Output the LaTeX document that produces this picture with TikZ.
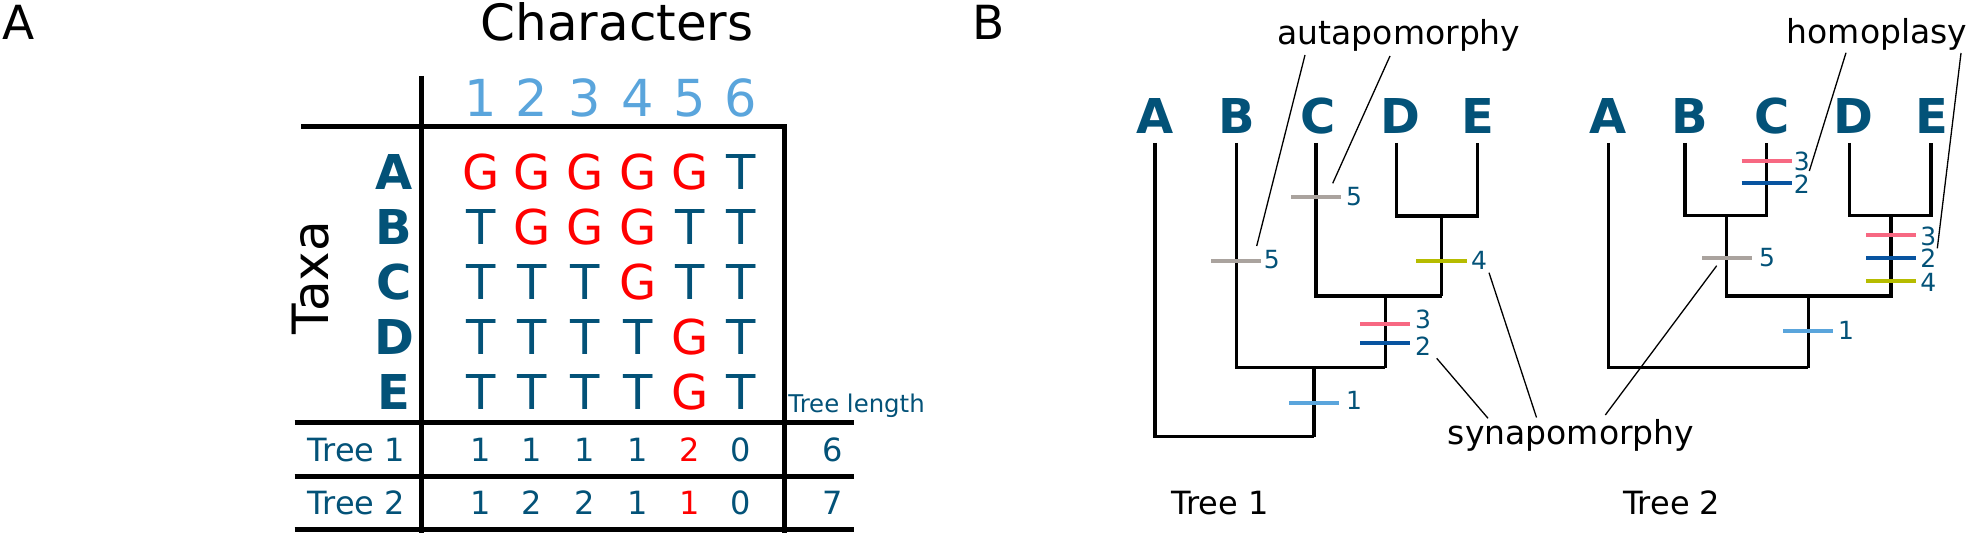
\documentclass[tikz,border=0pt]{standalone}
\usepackage{fontspec}
\setmainfont{DejaVu Sans}
\definecolor{cTeal}{RGB}{3,82,120}
\definecolor{cRed}{RGB}{255,0,0}
\definecolor{cLight}{RGB}{90,165,220}
\definecolor{cGray}{RGB}{170,163,158}
\definecolor{cOlive}{RGB}{182,188,0}
\definecolor{cPink}{RGB}{247,104,130}
\definecolor{cDark}{RGB}{8,84,160}
\newcommand{\myfs}[1]{\fontsize{#1}{#1}\selectfont}
\newcommand{\gG}{\textcolor{cRed}{G}}
\newcommand{\tT}{\textcolor{cTeal}{T}}
\newcommand{\rD}[1]{\textcolor{cRed}{#1}}
\newcommand{\trow}[8]{%
  \node[cell] (#1-1) at (481,#2) {#3};
  \node[cell] (#1-2) at (532,#2) {#4};
  \node[cell] (#1-3) at (585,#2) {#5};
  \node[cell] (#1-4) at (638,#2) {#6};
  \node[cell] (#1-5) at (690,#2) {#7};
  \node[cell] (#1-6) at (741,#2) {#8};}
\begin{document}
\begin{tikzpicture}[x=0.5pt,y=-0.5pt,
  every node/.style={inner sep=0pt, anchor=base},
  tbl/.style={line width=2.5pt, line join=miter},
  br/.style={line width=1.7pt, line join=miter},
  tk/.style={line width=2.1pt},
  lead/.style={line width=0.65pt},
  cell/.style={font={\myfs{24}}, text=cTeal},
  num/.style={font={\myfs{16}}, text=cTeal},
  hdr/.style={font={\myfs{25.5}}, text=cLight},
  taxon/.style={font={\myfs{24}\bfseries}, text=cTeal},
  tlab/.style={font={\myfs{12.5}}, text=cTeal, anchor=center},
  ann/.style={font={\myfs{16.5}}},
  treecap/.style={font={\myfs{16}}},
]
\useasboundingbox (0,0) rectangle (1969,533);

% ---------- panel A ----------
\node[font={\myfs{23.5}}] (pA) at (19,40) {A};
\node[font={\myfs{25}}] (chars) at (617,41) {Characters};
\node[hdr] (h1) at (481,116.7) {1};
\node[hdr] (h2) at (532,116.7) {2};
\node[hdr] (h3) at (585,116.7) {3};
\node[hdr] (h4) at (638,116.7) {4};
\node[hdr] (h5) at (690,116.7) {5};
\node[hdr] (h6) at (741,116.7) {6};

\node[font={\myfs{25}}, rotate=90] (taxa) at (328,277.5) {Taxa};
\node[taxon] (rA) at (394,190) {A};
\node[taxon] (rB) at (394,245) {B};
\node[taxon] (rC) at (394,300) {C};
\node[taxon] (rD) at (394,355) {D};
\node[taxon] (rE) at (394,410) {E};

\trow{a}{190}{\gG}{\gG}{\gG}{\gG}{\gG}{\tT}
\trow{b}{245}{\tT}{\gG}{\gG}{\gG}{\tT}{\tT}
\trow{c}{300}{\tT}{\tT}{\tT}{\gG}{\tT}{\tT}
\trow{d}{355}{\tT}{\tT}{\tT}{\tT}{\gG}{\tT}
\trow{e}{410}{\tT}{\tT}{\tT}{\tT}{\gG}{\tT}

\node[font={\myfs{12.2}}, text=cTeal, anchor=base west] (tlen) at (788,413) {Tree length};

\node[font={\myfs{16}}, text=cTeal] (tr1) at (356.5,461.7) {Tree 1};
\node[font={\myfs{16}}, text=cTeal] (tr2) at (356.5,515) {Tree 2};
\node[num] (p1) at (481,461.7) {1};
\node[num] (p2) at (532,461.7) {1};
\node[num] (p3) at (585,461.7) {1};
\node[num] (p4) at (638,461.7) {1};
\node[num] (p5) at (690,461.7) {\rD{2}};
\node[num] (p6) at (741,461.7) {0};
\node[num] (q1) at (481,515) {1};
\node[num] (q2) at (532,515) {2};
\node[num] (q3) at (585,515) {2};
\node[num] (q4) at (638,515) {1};
\node[num] (q5) at (690,515) {\rD{1}};
\node[num] (q6) at (741,515) {0};
\node[num] (len1) at (833,461.7) {6};
\node[num] (len2) at (833,515) {7};

\draw[tbl] (421,76) -- (421,533);
\draw[tbl] (301,127) -- (784,127) -- (784,533);
\draw[tbl] (294.5,422.7) -- (854,422.7);
\draw[tbl] (294.5,476.7) -- (854,476.7);
\draw[tbl] (294.5,530) -- (854,530);

% ---------- panel B ----------
\node[font={\myfs{23.5}}] (pB) at (989,40) {B};

% Tree 1
\node[taxon] (xA) at (1155,134) {A};
\node[taxon] (xB) at (1237,134) {B};
\node[taxon] (xC) at (1318,134) {C};
\node[taxon] (xD) at (1400,134) {D};
\node[taxon] (xE) at (1478,134) {E};
\coordinate (aA) at (1155,143);
\coordinate (aB) at (1236.7,143);
\coordinate (aC) at (1316,143);
\coordinate (aD) at (1396.7,143);
\coordinate (aE) at (1477.3,143);
\coordinate (aDE) at (1441.7,216);
\coordinate (aCDE) at (1385.3,296);
\coordinate (aBCDE) at (1314,367.7);
\coordinate (aR) at (1314,436.7);
\draw[br] (aD) |- (aDE) -| (aE);
\draw[br] (aDE) -- (aDE |- aCDE);
\draw[br] (aC) |- (aDE |- aCDE);
\draw[br] (aCDE) -- (aCDE |- aBCDE);
\draw[br] (aB) |- (aCDE |- aBCDE);
\draw[br] (aBCDE) -- (aR);
\draw[br] (aA) |- (aR);

\draw[tk, cGray] (1211,260.7) -- (1261,260.7);
\node[tlab] (m1) at (1271.7,260) {5};
\draw[tk, cGray] (1291,197.3) -- (1341,197.3);
\node[tlab] (m2) at (1354,197) {5};
\draw[tk, cOlive] (1416,260.7) -- (1466.7,260.7);
\node[tlab] (m3) at (1479,260) {4};
\draw[tk, cPink] (1360,324.3) -- (1410,324.3);
\node[tlab] (m4) at (1423,319) {3};
\draw[tk, cDark] (1360,343.3) -- (1410,343.3);
\node[tlab] (m5) at (1423,346) {2};
\draw[tk, cLight] (1289,402.7) -- (1339,402.7);
\node[tlab] (m6) at (1354,400) {1};

% Tree 2
\node[taxon] (yA) at (1608,134) {A};
\node[taxon] (yB) at (1690,134) {B};
\node[taxon] (yC) at (1771.7,134) {C};
\node[taxon] (yD) at (1853,134) {D};
\node[taxon] (yE) at (1931.7,134) {E};
\coordinate (bA) at (1608.3,143);
\coordinate (bB) at (1685,143);
\coordinate (bC) at (1766.7,143);
\coordinate (bD) at (1849.3,143);
\coordinate (bE) at (1931,143);
\coordinate (bBC) at (1726.7,215.7);
\coordinate (bDE) at (1891,215.7);
\coordinate (bM) at (1808.3,296);
\coordinate (bR) at (1808.3,367.7);
\draw[br] (bB) |- (bBC) -| (bC);
\draw[br] (bD) |- (bDE) -| (bE);
\draw[br] (bBC) |- (bM) -| (bDE);
\draw[br] (bM) -- (bR);
\draw[br] (bA) |- (bR);

\draw[tk, cPink] (1741.7,160.7) -- (1791.7,160.7);
\node[tlab] (n1) at (1801.7,161.7) {3};
\draw[tk, cDark] (1741.7,183.3) -- (1791.7,183.3);
\node[tlab] (n2) at (1801.7,184) {2};
\draw[tk, cGray] (1702,257.7) -- (1752,257.7);
\node[tlab] (n3) at (1767,258) {5};
\draw[tk, cPink] (1866,235) -- (1916,235);
\node[tlab] (n4) at (1928.3,236) {3};
\draw[tk, cDark] (1866,257.7) -- (1916,257.7);
\node[tlab] (n5) at (1928.3,258) {2};
\draw[tk, cOlive] (1866,280.7) -- (1916,280.7);
\node[tlab] (n6) at (1928.3,282) {4};
\draw[tk, cLight] (1783.3,331) -- (1833.3,331);
\node[tlab] (n7) at (1846,330) {1};

% annotations
\node[ann] (auta) at (1399,45) {autapomorphy};
\node[ann] (homo) at (1877,44) {homoplasy};
\node[ann] (syna) at (1571,445) {synapomorphy};
\node[treecap] (cap1) at (1220,515) {Tree 1};
\node[treecap] (cap2) at (1671.6,515) {Tree 2};

\coordinate (u1) at (1305,55);   \coordinate (u1e) at (1256.7,246);
\coordinate (u2) at (1390,56);   \coordinate (u2e) at (1332.7,183.3);
\coordinate (h1s) at (1846,52.7); \coordinate (h1e) at (1809.3,171);
\coordinate (h2s) at (1961,53);  \coordinate (h2e) at (1937.3,248.3);
\coordinate (s1) at (1488,418.3); \coordinate (s1e) at (1436.7,358.3);
\coordinate (s2) at (1536.5,417.5); \coordinate (s2e) at (1489,272.7);
\coordinate (s3) at (1605.3,415); \coordinate (s3e) at (1716.7,265.7);
\draw[lead] (u1) -- (u1e);
\draw[lead] (u2) -- (u2e);
\draw[lead] (h1s) -- (h1e);
\draw[lead] (h2s) -- (h2e);
\draw[lead] (s1) -- (s1e);
\draw[lead] (s2) -- (s2e);
\draw[lead] (s3) -- (s3e);
\end{tikzpicture}
\end{document}
